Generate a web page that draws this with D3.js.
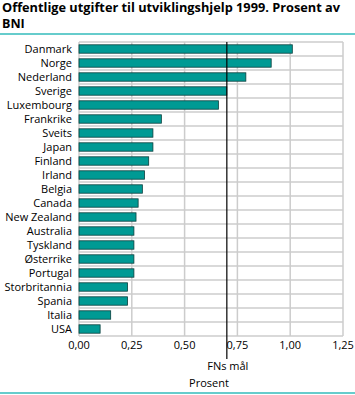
<!DOCTYPE html>
<html><head><meta charset="utf-8">
<script src="https://cdn.jsdelivr.net/npm/d3@7"></script>
<style>body{margin:0;background:#fff}svg{display:block;font-family:"Open Sans",sans-serif}</style>
</head><body>
<script>
const countries = ["Danmark","Norge","Nederland","Sverige","Luxembourg","Frankrike","Sveits","Japan","Finland","Irland","Belgia","Canada","New Zealand","Australia","Tyskland","Østerrike","Portugal","Storbritannia","Spania","Italia","USA"];
const values = [1.01,0.91,0.79,0.70,0.66,0.39,0.35,0.35,0.33,0.31,0.30,0.28,0.27,0.26,0.26,0.26,0.26,0.23,0.23,0.15,0.10];
const ticks = [0,0.25,0.5,0.75,1.0,1.25];
const target = 0.7;
const targetLabel = "FNs mål";
const unitLabel = "Prosent";
const title = ["Offentlige utgifter til utviklingshjelp 1999. Prosent av","BNI"];

const W=355,H=395;
const svg=d3.select("body").append("svg").attr("width",W).attr("height",H);
svg.append("text").attr("x",2).attr("y",12).attr("font-size",12.5).attr("font-weight","bold")
 .attr("textLength",338).attr("lengthAdjust","spacingAndGlyphs").text(title[0]);
svg.append("text").attr("x",2).attr("y",28).attr("font-size",12.5).attr("font-weight","bold").text(title[1]);
svg.append("rect").attr("x",0).attr("y",33).attr("width",W).attr("height",2).attr("fill","#66cccc");
svg.append("rect").attr("x",0).attr("y",392).attr("width",W).attr("height",2).attr("fill","#66cccc");

const x=d3.scaleLinear().domain([0,1.25]).range([79,343]);
const y=d3.scaleBand().domain(countries).range([42,336]).paddingInner(0.4).paddingOuter(0.2);
const rows=d3.scaleBand().domain(countries).range([42,336]);

const g=svg.append("g");
g.selectAll("line.h").data(countries.concat(["_end"])).join("line")
 .attr("x1",79).attr("x2",343)
 .attr("y1",(d,i)=>42+i*rows.step()).attr("y2",(d,i)=>42+i*rows.step())
 .attr("stroke","#cccccc").attr("stroke-width",1.5);
g.selectAll("line.v").data(ticks).join("line")
 .attr("x1",d=>x(d)).attr("x2",d=>x(d)).attr("y1",42).attr("y2",336)
 .attr("stroke","#cccccc").attr("stroke-width",1.5);

g.selectAll("rect.bar").data(values).join("rect")
 .attr("x",x(0)).attr("y",(d,i)=>y(countries[i]))
 .attr("width",d=>x(d)-x(0)).attr("height",y.bandwidth())
 .attr("fill","#009a94").attr("stroke","#0b3f3d").attr("stroke-width",0.8);

g.selectAll("text.cat").data(countries).join("text")
 .attr("x",72).attr("y",d=>rows(d)+rows.bandwidth()/2+4)
 .attr("text-anchor","end").attr("font-size",11).text(d=>d);

g.selectAll("text.tick").data(ticks).join("text")
 .attr("x",d=>x(d)).attr("y",349).attr("text-anchor","middle").attr("font-size",11)
 .text(d=>d3.format(".2f")(d).replace(".",","));

g.append("line").attr("x1",x(target)).attr("x2",x(target)).attr("y1",42).attr("y2",359)
 .attr("stroke","#000").attr("stroke-width",1.2);
g.append("text").attr("x",x(target)+1).attr("y",370).attr("text-anchor","middle").attr("font-size",11).text(targetLabel);
g.append("text").attr("x",209).attr("y",387).attr("text-anchor","middle").attr("font-size",11).text(unitLabel);
</script>
</body></html>
